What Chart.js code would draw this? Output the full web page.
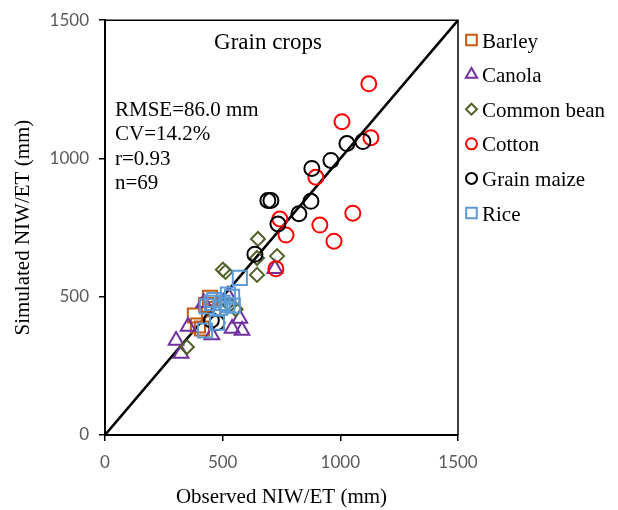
<!DOCTYPE html>
<html>
<head>
<meta charset="utf-8">
<script src="https://cdn.jsdelivr.net/npm/chart.js@4.4.0/dist/chart.umd.min.js"></script>
<style>
html,body{margin:0;padding:0;background:#fff;}
#wrap{width:618px;height:510px;position:relative;}
</style>
</head>
<body>
<div id="wrap"><canvas id="c" width="618" height="510"></canvas></div>
<script>
// ---- data ----
const seriesNames = ["Barley","Canola","Common bean","Cotton","Grain maize","Rice"];
const barleyX = [446,382,395,412,430,460];
const barleyY = [496,432,396,385,470,455];
const canolaX = [302,323,353,454,540,582,573,722,522,420];
const canolaY = [342,295,392,362,385,378,421,601,505,478];
const beanX = [348,501,512,646,650,731,646,530,555];
const beanY = [318,598,590,640,709,647,579,470,455];
const cottonX = [1121,1007,1130,896,1053,913,973,743,769,726];
const cottonY = [1270,1133,1075,932,802,759,701,781,723,601];
const maizeX = [637,692,705,735,824,875,879,960,1028,1096,452,476];
const maizeY = [654,848,848,763,800,845,964,993,1054,1061,415,406];
const riceX = [573,522,540,454,433,543,500,520,476,425,490,465];
const riceY = [568,508,500,478,465,468,478,470,406,378,460,488];
const oneToOne = [0,1500];
const axisTicks = [0,500,1000,1500];
const tickLabels = ["0","500","1000","1500"];
const titleText = "Grain crops";
const statsLines = ["RMSE=86.0 mm","CV=14.2%","r=0.93","n=69"];
const xTitle = "Observed NIW/ET (mm)";
const yTitle = "Simulated NIW/ET (mm)";

const pts = (xs, ys) => xs.map((x, i) => ({x: x, y: ys[i]}));

const styles = [
  {color:'#c55a11', style:'rect', r:10, lr:7.5},
  {color:'#7030a0', style:'triangle', r:8.5, lr:6.5},
  {color:'#4f6228', style:'rectRot', r:7, lr:5.5},
  {color:'#ff0000', style:'circle', r:7.5, lr:5.5},
  {color:'#000000', style:'circle', r:7.5, lr:5.5},
  {color:'#5b9bd5', style:'rect', r:10, lr:7.5}
];
const seriesData = [
  pts(barleyX, barleyY), pts(canolaX, canolaY), pts(beanX, beanY),
  pts(cottonX, cottonY), pts(maizeX, maizeY), pts(riceX, riceY)
];

const datasets = seriesNames.map((name, i) => ({
  type: 'scatter',
  label: name,
  data: seriesData[i],
  pointStyle: styles[i].style,
  pointRadius: styles[i].r,
  pointHoverRadius: styles[i].r,
  borderColor: styles[i].color,
  backgroundColor: 'rgba(0,0,0,0)',
  pointBorderWidth: 2,
  borderWidth: 2,
  order: 6 - i
}));
datasets.push({
  type: 'line',
  label: '1:1',
  data: pts(oneToOne, oneToOne),
  borderColor: '#000',
  borderWidth: 2.5,
  pointRadius: 0,
  fill: false,
  order: 10
});

const extras = {
  id: 'extras',
  afterDraw(chart) {
    const ctx = chart.ctx;
    const a = chart.chartArea;
    ctx.save();
    // top & right frame
    ctx.strokeStyle = '#000';
    ctx.lineWidth = 1.5;
    ctx.beginPath();
    ctx.moveTo(a.left, a.top);
    ctx.lineTo(a.right, a.top);
    ctx.lineTo(a.right, a.bottom);
    ctx.stroke();
    // title
    ctx.fillStyle = '#000';
    ctx.font = '23px "Liberation Serif", "Times New Roman", serif';
    ctx.textAlign = 'center';
    ctx.textBaseline = 'alphabetic';
    ctx.fillText(titleText, 268, 49);
    // stats
    ctx.font = '21px "Liberation Serif", "Times New Roman", serif';
    ctx.textAlign = 'left';
    statsLines.forEach((t, i) => ctx.fillText(t, 115, 116 + i * 24.4));
    // legend
    ctx.font = '21px "Liberation Serif", "Times New Roman", serif';
    seriesNames.forEach((name, i) => {
      const y = 40 + i * 34.6;
      ctx.strokeStyle = styles[i].color;
      ctx.fillStyle = 'rgba(0,0,0,0)';
      ctx.lineWidth = 2;
      Chart.helpers.drawPoint(ctx, {pointStyle: styles[i].style, radius: styles[i].lr, borderWidth: 2}, 471.5, y);
      ctx.fillStyle = '#000';
      ctx.textBaseline = 'alphabetic';
      ctx.fillText(name, 482, y + 7.5);
    });
    ctx.restore();
  }
};

const tickFont = {family: 'Lato, "Open Sans", sans-serif', size: 17};
const axisTitleFont = {family: '"Liberation Serif", "Times New Roman", serif', size: 21};
const tickCb = v => { const k = axisTicks.indexOf(v); return k >= 0 ? tickLabels[k] : ''; };

new Chart(document.getElementById('c'), {
  data: {datasets: datasets},
  options: {
    responsive: false,
    animation: false,
    devicePixelRatio: 1,
    layout: {padding: {top: 18, right: 160, left: 0, bottom: 0}},
    plugins: {legend: {display: false}, tooltip: {enabled: false}},
    scales: {
      x: {
        type: 'linear', min: 0, max: 1500,
        afterBuildTicks: s => { s.ticks = axisTicks.map(v => ({value: v})); },
        afterFit: s => { s.height = 75; },
        grid: {drawOnChartArea: false, drawTicks: true, tickLength: 6, color: '#000', lineWidth: 1.5},
        border: {display: true, color: '#000', width: 2},
        ticks: {color: '#595959', font: tickFont, padding: 11, maxRotation: 0, callback: tickCb},
        title: {display: true, text: xTitle, color: '#000', font: axisTitleFont, padding: {top: 0, bottom: 0}}
      },
      y: {
        type: 'linear', min: 0, max: 1500,
        afterBuildTicks: s => { s.ticks = axisTicks.map(v => ({value: v})); },
        afterFit: s => { s.width = 105; },
        grid: {drawOnChartArea: false, drawTicks: true, tickLength: 6, color: '#000', lineWidth: 1.5},
        border: {display: true, color: '#000', width: 2},
        ticks: {color: '#595959', font: tickFont, padding: 10, callback: tickCb},
        title: {display: true, text: yTitle, color: '#000', font: axisTitleFont, padding: {top: 11, bottom: 0}}
      }
    }
  },
  plugins: [extras]
});
</script>
</body>
</html>
